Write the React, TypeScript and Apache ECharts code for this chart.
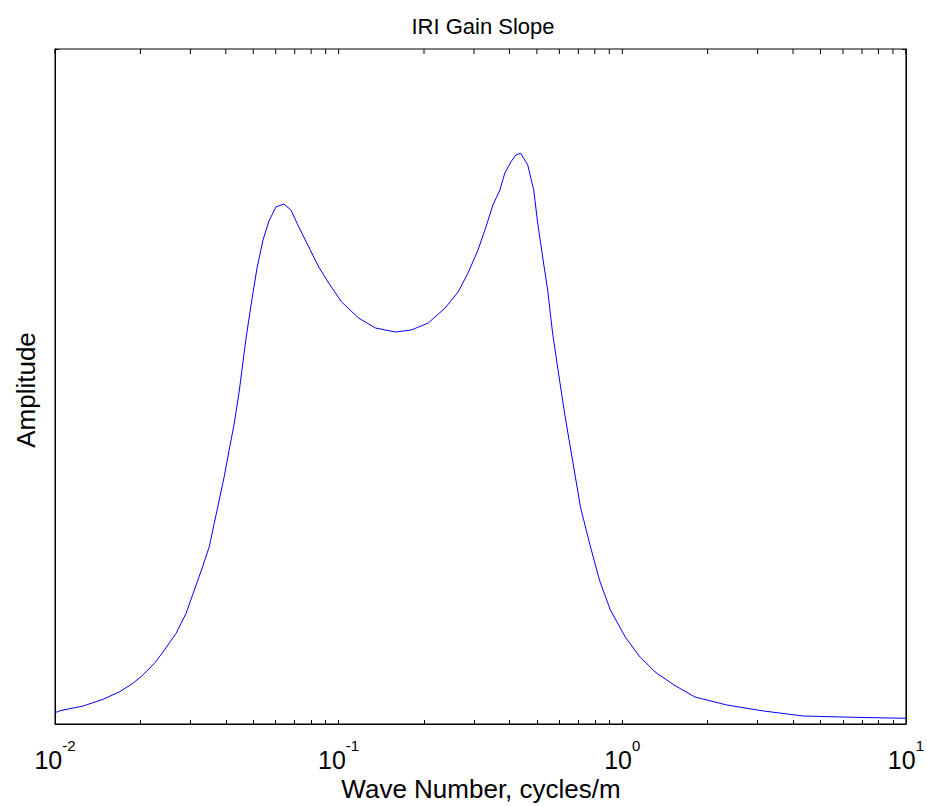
import React, { useEffect, useRef } from "react";
import * as echarts from "echarts";

// Wave number (cycles/m)
const waveNumber = [
  0.01, 0.010412, 0.01257, 0.014771, 0.016906, 0.018827, 0.020408, 0.022434,
  0.024322, 0.02673, 0.028986, 0.030994, 0.033143, 0.034985, 0.036427, 0.037928,
  0.039491, 0.041118, 0.042813, 0.044577, 0.047057, 0.049117, 0.051556, 0.054117,
  0.0568, 0.060104, 0.064125, 0.067856, 0.072375, 0.07848, 0.0851, 0.092237,
  0.10245, 0.11753, 0.13484, 0.15849, 0.18039, 0.20691, 0.23736, 0.26367,
  0.2859, 0.30994, 0.33064, 0.34985, 0.37021, 0.38547, 0.40459, 0.42126,
  0.43862, 0.46416, 0.48722, 0.50323, 0.52397, 0.54556, 0.568, 0.5914,
  0.62579, 0.66753, 0.71214, 0.76623, 0.83064, 0.90773, 1.0245, 1.1473,
  1.3056, 1.5218, 1.8039, 2.3357, 3.1499, 4.3512, 6.5173, 10,
];

// Gain amplitude
const amplitude = [
  0.0335, 0.0394, 0.0533, 0.0732, 0.0957, 0.1206, 0.1452, 0.1799,
  0.2193, 0.2687, 0.328, 0.397, 0.4661, 0.5253, 0.5947, 0.6637,
  0.7327, 0.8119, 0.8889, 0.9837, 1.1378, 1.2415, 1.3511, 1.4341,
  1.4904, 1.5319, 1.5407, 1.523, 1.4726, 1.4133, 1.3541, 1.3067,
  1.2504, 1.203, 1.1733, 1.1615, 1.1674, 1.1881, 1.2326, 1.28,
  1.3363, 1.4044, 1.4726, 1.5378, 1.5822, 1.6326, 1.6652, 1.6859,
  1.691, 1.6563, 1.5822, 1.4844, 1.3837, 1.2859, 1.1585, 1.0578,
  0.9215, 0.7822, 0.643, 0.5363, 0.4267, 0.3378, 0.2578, 0.2015,
  0.1541, 0.1156, 0.08, 0.0563, 0.0385, 0.0237, 0.0199, 0.0169,
];

const majorTicks = [0.01, 0.1, 1, 10];
const tickExponents = ["-2", "-1", "0", "1"];
const tickMultipliers = [1, 2, 3, 4, 5, 6, 7, 8, 9];
const yMin = 0;
const yMax = 2;

const titleText = "IRI Gain Slope";
const xAxisTitle = "Wave Number, cycles/m";
const yAxisTitle = "Amplitude";

const FONT = "'Liberation Sans', Arial, Helvetica, sans-serif";

export default function App() {
  const ref = useRef<HTMLDivElement>(null);

  useEffect(() => {
    if (!ref.current) return;
    const chart = echarts.init(ref.current, null, { renderer: "svg" });

    const allTicks: number[] = [];
    majorTicks.forEach((d, i) => {
      if (i < majorTicks.length - 1) {
        tickMultipliers.forEach((m) => allTicks.push(+(d * m).toPrecision(3)));
      } else {
        allTicks.push(d);
      }
    });

    const labelFormatter = (v: number) => {
      const idx = majorTicks.findIndex((t) => Math.abs(t - v) / t < 1e-6);
      if (idx < 0) return "";
      return `{b|10}{s|${tickExponents[idx]}}`;
    };

    const makeY = (position: "left" | "right") => ({
      type: "value",
      min: yMin,
      max: yMax,
      interval: yMax - yMin,
      position,
      axisLine: { show: true, onZero: false, lineStyle: { color: "#000", width: 1 } },
      axisTick: { show: true, inside: true, length: 4, lineStyle: { color: "#000" } },
      axisLabel: { show: false },
      splitLine: { show: false },
    });

    chart.setOption({
      animation: false,
      backgroundColor: "#fff",
      grid: {
        left: 55,
        right: 16,
        top: 49,
        bottom: 82,
        containLabel: false,
        show: true,
        borderColor: "#000",
        borderWidth: 1,
        backgroundColor: "transparent",
      },
      xAxis: [
        {
          type: "log",
          logBase: 10,
          min: 0.01,
          max: 10,
          position: "bottom",
          axisLine: { show: true, onZero: false, lineStyle: { color: "#000", width: 1 } },
          axisTick: {
            show: true,
            inside: true,
            length: 4,
            customValues: allTicks,
            lineStyle: { color: "#000", width: 1 },
          },
          minorTick: { show: false },
          splitLine: { show: false },
          minorSplitLine: { show: false },
          axisLabel: {
            show: true,
            customValues: majorTicks,
            margin: 14,
            formatter: labelFormatter,
            color: "#000",
            rich: {
              b: { fontSize: 25, fontFamily: FONT, color: "#000", lineHeight: 34, verticalAlign: "bottom" },
              s: { fontSize: 15, fontFamily: FONT, color: "#000", lineHeight: 15, verticalAlign: "top" },
            },
          },
        },
      ],
      yAxis: [makeY("left"), makeY("right")],
      graphic: [
        {
          type: "text",
          x: 483,
          y: 26,
          style: {
            text: titleText,
            font: `22px ${FONT}`,
            fill: "#000",
            align: "center",
            verticalAlign: "middle",
          },
        },
        {
          type: "text",
          x: 481,
          y: 789,
          style: {
            text: xAxisTitle,
            font: `26px ${FONT}`,
            fill: "#000",
            align: "center",
            verticalAlign: "middle",
          },
        },
        {
          type: "text",
          x: 26,
          y: 390,
          rotation: Math.PI / 2,
          style: {
            text: yAxisTitle,
            font: `26px ${FONT}`,
            fill: "#000",
            align: "center",
            verticalAlign: "middle",
          },
        },
      ],
      series: [
        {
          type: "line",
          data: waveNumber.map((w, i) => [w, amplitude[i]]),
          showSymbol: false,
          symbol: "none",
          smooth: false,
          lineStyle: { color: "#0000ff", width: 1 },
        },
        {
          // mirrored tick marks along the top edge of the box
          type: "custom",
          clip: false,
          data: allTicks.map((t) => [t, (yMin + yMax) / 2]),
          renderItem: (params: any, api: any) => {
            const p = api.coord([api.value(0), api.value(1)]);
            const top = params.coordSys.y;
            return {
              type: "line",
              shape: { x1: p[0], y1: top, x2: p[0], y2: top + 5 },
              style: { stroke: "#000", lineWidth: 1 },
            };
          },
        },
      ],
    });

    return () => chart.dispose();
  }, []);

  return (
    <div
      ref={ref}
      style={{ position: "absolute", left: 0, top: 0, width: 927, height: 806, background: "#fff" }}
    />
  );
}
